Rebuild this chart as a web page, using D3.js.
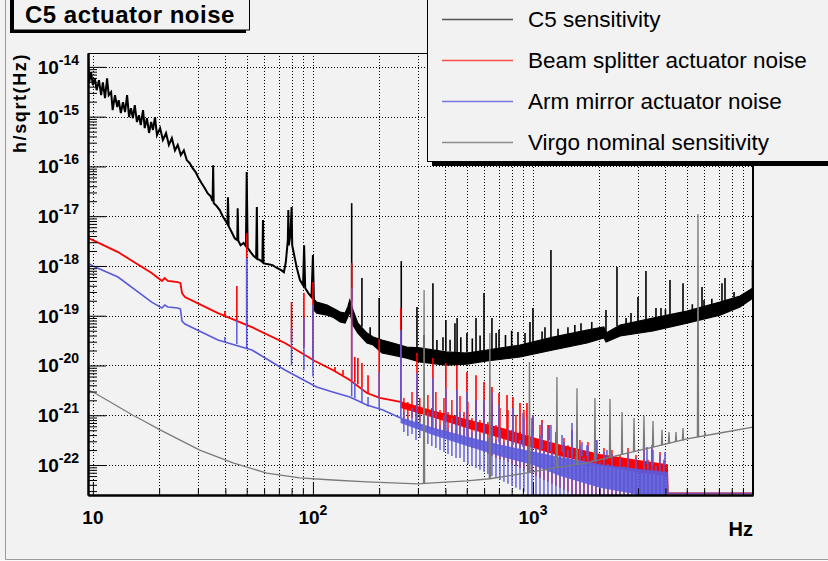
<!DOCTYPE html>
<html>
<head>
<meta charset="utf-8">
<script src="https://cdn.jsdelivr.net/npm/d3@7"></script>
<style>
  body { margin: 0; background: #f2f2f2; }
  svg { display: block; font-family: "Liberation Sans", Arial, Helvetica, sans-serif; }
</style>
</head>
<body>
<svg width="828" height="561"></svg>
<script>
var title = "C5 actuator noise";
var yTitle = "h/sqrt(Hz)";
var xTitle = "Hz";

var legendLabels = ["C5 sensitivity", "Beam splitter actuator noise",
                    "Arm mirror actuator noise", "Virgo nominal sensitivity"];
var legendColors = ["#555555", "#ff4a4a", "#7878e0", "#8c8c8c"];

var xMajor = [10, 100, 1000];
var xLabelExp = ["", "2", "3"];
var yMajor = [1e-22, 1e-21, 1e-20, 1e-19, 1e-18, 1e-17, 1e-16, 1e-15, 1e-14];
var yLabelExp = ["-22", "-21", "-20", "-19", "-18", "-17", "-16", "-15", "-14"];

// C5 sensitivity, [Hz, h]
var c5Trace = [
  [9.5, 1.57e-14], [9.6, 4.7e-15], [9.8, 7.8e-15], [10.0, 4.3e-15], [10.2, 5.9e-15],
  [10.4, 3.4e-15], [10.65, 5.4e-15], [10.9, 2.7e-15], [11.1, 4.9e-15], [11.35, 2.35e-15],
  [11.6, 5.9e-15], [11.8, 2.7e-15], [12.1, 3.1e-15], [12.3, 1.35e-15], [12.6, 2.7e-15],
  [12.9, 1.55e-15], [13.1, 2.15e-15], [13.4, 1.18e-15], [13.7, 1.95e-15], [14.0, 1.23e-15],
  [14.3, 2.7e-15], [14.6, 9.8e-16], [14.9, 1.48e-15], [15.2, 9.3e-16], [15.5, 1.7e-15],
  [15.85, 7.8e-16], [16.2, 1.07e-15], [16.5, 6.8e-16], [16.9, 1.35e-15], [17.2, 5.9e-16],
  [17.6, 9.3e-16], [18.0, 4.7e-16], [18.4, 7.8e-16], [18.75, 5.4e-16], [19.15, 9.8e-16],
  [19.55, 4.25e-16], [20.2, 5.9e-16], [20.8, 3.4e-16], [21.5, 4.7e-16], [22.15, 2.7e-16],
  [22.85, 3.7e-16], [23.6, 2.1e-16], [24.3, 2.7e-16], [25.1, 1.69e-16], [25.9, 2.1e-16],
  [26.7, 1.34e-16], [27.55, 1.16e-16], [28.4, 9.2e-17], [29.3, 7.7e-17], [30.25, 5.8e-17],
  [31.2, 4.6e-17], [32.2, 3.7e-17], [33.2, 2.9e-17], [34.3, 2.5e-17], [35.0, 2.0e-17],
  [35.2, 1.06e-16], [35.4, 1.83e-17], [36.5, 1.6e-17], [37.7, 1.33e-17], [38.9, 1.0e-17],
  [40.1, 8.0e-18], [40.9, 6.9e-18], [41.1, 2.4e-17], [41.4, 6.3e-18], [42.7, 4.8e-18],
  [44.1, 3.6e-18], [45.3, 3.3e-18], [45.5, 1.45e-17], [45.8, 3.2e-18], [46.9, 2.6e-18],
  [48.4, 2.9e-18], [49.6, 2.5e-18], [50.0, 7.7e-17], [50.5, 2.3e-18], [52.1, 1.9e-18],
  [53.8, 1.58e-18], [55.2, 1.44e-18], [55.6, 1.52e-17], [55.9, 1.38e-18], [57.5, 1.31e-18],
  [58.9, 1.2e-18], [59.3, 8.4e-18], [59.6, 1.14e-18], [61.9, 1.09e-18], [65.5, 1.04e-18],
  [68.6, 9.1e-19], [71.5, 8.3e-19], [73.8, 7.5e-19], [75.3, 1.2e-18], [76.9, 3.3e-18],
  [77.3, 1.33e-17], [77.7, 2.6e-18], [79.0, 4.2e-18], [80.0, 1.52e-17], [80.5, 2.6e-18],
  [82.7, 1.44e-18], [84.5, 9.1e-19], [87.3, 5.2e-19], [90.2, 4.1e-19], [91.2, 2.6e-18],
  [92.2, 3.6e-19], [95.3, 2.85e-19], [98.5, 2.37e-19], [100, 1.66e-18], [101, 2.16e-19]
];
// [Hz, lower, upper]
var c5Band = [
  [101, 1.3e-19, 2.16e-19], [104, 1.13e-19, 1.88e-19], [116, 1.03e-19, 1.64e-19],
  [123, 9.4e-20, 1.43e-19], [133, 7.5e-20, 1.19e-19], [140, 7.1e-20, 1.13e-19],
  [144, 9.4e-20, 1.5e-19], [147, 1.19e-19, 2.07e-19], [152, 6.5e-20, 1.3e-19],
  [160, 4.49e-20, 7.1e-20], [176, 2.83e-20, 4.49e-20], [188, 2.58e-20, 3.73e-20],
  [206, 1.78e-20, 3.25e-20], [231, 1.62e-20, 2.83e-20], [267, 1.41e-20, 2.35e-20],
  [306, 1.18e-20, 2.25e-20], [402, 1.02e-20, 1.87e-20], [501, 1.07e-20, 1.78e-20],
  [618, 1.23e-20, 2.05e-20], [873, 1.48e-20, 2.58e-20], [1233, 2.05e-20, 3.73e-20],
  [1760, 2.83e-20, 5.16e-20], [2100, 3.57e-20, 5.93e-20], [2150, 2.96e-20, 4.49e-20],
  [2490, 3.91e-20, 6.5e-20], [3510, 4.93e-20, 8.99e-20], [5010, 7.1e-20, 1.24e-19],
  [7080, 1.03e-19, 1.88e-19], [8730, 1.5e-19, 2.49e-19], [10000, 2.27e-19, 3.6e-19]
];
// lines [Hz, bottom, top]
var c5Lines = [
  [150, 2.0e-19, 1.83e-17], [167, 6e-20, 5.7e-19], [182, 4e-20, 5.9e-20], [200, 3.4e-20, 2.27e-19],
  [252, 2.5e-20, 1.25e-18], [297, 2.2e-20, 1.5e-19], [320, 2.1e-20, 4.1e-20], [351, 2.1e-20, 4.5e-19],
  [366, 2.0e-20, 3.25e-20], [390, 2.0e-20, 3.7e-20], [402, 1.9e-20, 8.2e-20], [420, 1.9e-20, 3.3e-20],
  [442, 1.85e-20, 7.1e-20], [452, 1.85e-20, 9.0e-20], [470, 1.85e-20, 3.7e-20], [501, 1.8e-20, 4.5e-20],
  [530, 1.85e-20, 3.5e-20], [551, 1.9e-20, 9.0e-20], [575, 1.9e-20, 4.0e-20], [599, 2.0e-20, 2.85e-19],
  [651, 2.1e-20, 9.0e-20], [680, 2.1e-20, 4.5e-20], [701, 2.2e-20, 5.2e-20], [750, 2.3e-20, 4.1e-20],
  [800, 2.4e-20, 5.0e-20], [855, 2.5e-20, 4.7e-20], [920, 2.6e-20, 4.5e-20], [969, 2.8e-20, 7.5e-20],
  [1000, 2.9e-20, 1.43e-19], [1100, 3.2e-20, 4.8e-20], [1134, 3.3e-20, 5.9e-20], [1207, 3.6e-20, 2.08e-18],
  [1300, 3.8e-20, 5.5e-20], [1442, 4.3e-20, 5.9e-20], [1550, 4.5e-20, 6.5e-20], [1653, 4.9e-20, 7.1e-20],
  [1850, 5.2e-20, 7.5e-20], [2147, 4.5e-20, 1.3e-19], [2409, 6.2e-20, 9.5e-19], [2650, 6.8e-20, 9e-20],
  [2789, 7e-20, 1.13e-19], [3001, 7.5e-20, 2.37e-19], [3263, 8e-20, 7.9e-19], [3623, 9e-20, 1.43e-19],
  [3818, 9.5e-20, 1.43e-19], [4000, 9.8e-20, 1.35e-19], [4195, 1.0e-19, 5.2e-19], [4807, 1.15e-19, 4.5e-19],
  [5300, 1.2e-19, 1.7e-19], [5864, 1.4e-19, 3.77e-19], [5989, 1.45e-19, 2.07e-19], [6500, 1.6e-19, 2.2e-19],
  [7229, 1.9e-19, 4.5e-19], [7459, 2.0e-19, 5.7e-19], [8200, 2.3e-19, 3.0e-19], [9950, 3.5e-19, 1.31e-18]
];

// Beam splitter actuator noise
var bsTrace = [
  [9.5, 3.63e-18], [10, 3.31e-18], [13.0, 1.9e-18], [18.5, 7.2e-19], [20.6, 5.0e-19],
  [21.2, 5.7e-19], [21.9, 5.0e-19], [24.3, 4.75e-19], [25.0, 4.5e-19], [25.4, 2.86e-19],
  [26.2, 2.37e-19], [37.0, 1.13e-19], [52.8, 5.9e-20], [74.6, 2.83e-20], [102, 1.23e-20],
  [123, 8.1e-21], [147, 5.1e-21], [176, 2.8e-21], [201, 2.23e-21], [250, 1.85e-21]
];
var bsBand = [
  [250, 1.4e-21, 1.85e-21], [351, 9e-22, 1.2e-21], [501, 5.5e-22, 8e-22],
  [708, 3.5e-22, 5.5e-22], [1000, 2.2e-22, 3.5e-22], [1327, 1.5e-22, 2.5e-22],
  [2016, 1e-22, 1.6e-22], [3065, 7e-23, 1.2e-22], [4070, 6e-23, 1.0e-22],
  [4100, 2.7e-23, 2.7e-23], [10000, 2.7e-23, 2.7e-23]
];
var bsLines = [
  [39.8, 1.0e-19, 1.24e-19], [45.1, 8.2e-20, 3.95e-19], [50, 6.3e-20, 4.58e-18], [79.9, 3.0e-20, 1.88e-19],
  [91, 2.3e-20, 2.86e-19], [100, 1.3e-20, 4.75e-19], [126, 7.6e-21, 9.3e-21], [137, 6.3e-21, 8.1e-21],
  [150, 5.0e-21, 1.14e-18], [155, 4.6e-21, 1.48e-20], [160, 4.2e-21, 1.41e-20], [167, 3.6e-21, 1.12e-20],
  [178, 2.7e-21, 6.4e-21], [200, 2.2e-21, 3.4e-20], [251, 1.8e-21, 1.43e-19], [297, 1.5e-21, 1.78e-20],
  [351, 1.2e-21, 1.41e-20], [402, 1.0e-21, 1.12e-20], [451, 9e-22, 1.02e-20], [501, 8e-22, 7.4e-21],
  [551, 7e-22, 6.4e-21], [599, 6.5e-22, 4.66e-21], [651, 6e-22, 3.7e-21], [701, 5.5e-22, 2.8e-21],
  [762, 5e-22, 2.56e-21], [811, 4.5e-22, 2.33e-21], [873, 4.2e-22, 1.77e-21], [939, 4e-22, 1.77e-21],
  [1000, 3.8e-22, 1.0e-21], [1099, 3.4e-22, 8e-22], [1183, 3.1e-22, 6.4e-22]
];
var bsGrass = [
  [259, 8.8e-22, 2.23e-21], [270, 8.0e-22, 1.85e-21], [282, 8.8e-22, 2.94e-21], [294, 6.7e-22, 1.61e-21],
  [306, 7.3e-22, 2.23e-21], [320, 6.1e-22, 1.69e-21], [333, 5.5e-22, 2.56e-21], [347, 5.1e-22, 1.4e-21],
  [362, 4.6e-22, 2.94e-21], [378, 4.2e-22, 1.28e-21], [394, 3.84e-22, 2.23e-21], [411, 3.5e-22, 1.16e-21],
  [428, 3.2e-22, 2.03e-21], [447, 2.9e-22, 1.01e-21], [466, 2.9e-22, 2.44e-21], [486, 2.65e-22, 1.16e-21],
  [506, 2.42e-22, 1.85e-21], [528, 2.2e-22, 8.8e-22], [551, 2.2e-22, 2.03e-21], [574, 2.0e-22, 8.0e-22],
  [599, 1.83e-22, 1.61e-21], [624, 1.67e-22, 7.3e-22], [651, 1.52e-22, 1.85e-21], [679, 1.39e-22, 6.4e-22],
  [708, 1.27e-22, 1.4e-21], [738, 1.27e-22, 5.5e-22], [770, 1.15e-22, 1.28e-21], [803, 1.05e-22, 5.1e-22],
  [837, 9.6e-23, 1.01e-21], [873, 8.7e-23, 4.6e-22], [910, 8e-23, 1.28e-21], [949, 7.3e-23, 4.0e-22],
  [990, 6.6e-23, 8.8e-22], [1032, 6.0e-23, 3.2e-22], [1076, 5.5e-23, 6.4e-22], [1122, 5e-23, 2.9e-22],
  [1170, 4.6e-23, 6.4e-22], [1220, 4.2e-23, 2.5e-22], [1272, 3.8e-23, 4.6e-22], [1327, 3.5e-23, 2.2e-22],
  [1383, 3.2e-23, 3.5e-22], [1442, 2.9e-23, 2.5e-22], [1504, 1e-24, 5.1e-22], [1568, 1e-24, 1.83e-22],
  [1635, 1e-24, 3.2e-22], [1705, 1e-24, 1.6e-22], [1778, 1e-24, 2.9e-22], [1854, 1e-24, 1.39e-22],
  [1933, 1e-24, 3.2e-22], [2016, 1e-24, 1.27e-22], [2102, 1e-24, 2.2e-22], [2192, 1e-24, 1.15e-22],
  [2286, 1e-24, 2.0e-22], [2384, 1e-24, 1.0e-22], [2486, 1e-24, 1.6e-22], [2592, 1e-24, 1.15e-22],
  [2703, 1e-24, 2.2e-22], [2818, 1e-24, 9.6e-23], [2939, 1e-24, 1.6e-22], [3065, 1e-24, 8.7e-23],
  [3196, 1e-24, 2.42e-22], [3332, 1e-24, 1.27e-22], [3475, 1e-24, 2.5e-22], [3623, 1e-24, 1.05e-22],
  [3778, 1e-24, 1.83e-22], [3940, 1e-24, 1.27e-22]
];

// Arm mirror actuator noise
var amTrace = [
  [9.5, 1.14e-18], [10, 1.0e-18], [13.0, 6.0e-19], [18.5, 1.88e-19], [20.6, 1.43e-19],
  [21.2, 1.64e-19], [21.9, 1.5e-19], [24.3, 1.43e-19], [25.0, 1.36e-19], [25.4, 7.8e-20],
  [26.2, 6.8e-20], [37.0, 3.25e-20], [52.8, 2.05e-20], [74.6, 8.1e-21], [104, 3.7e-21],
  [123, 2.94e-21], [147, 2.33e-21], [176, 1.61e-21], [208, 1.28e-21], [250, 8.8e-22]
];
var amBand = [
  [250, 7e-22, 8.8e-22], [351, 4e-22, 5.5e-22], [501, 2.4e-22, 3.6e-22],
  [708, 1.5e-22, 2.5e-22], [1000, 1.0e-22, 1.8e-22], [1327, 6e-23, 1.4e-22],
  [2016, 3.5e-23, 1.0e-22], [3065, 1e-24, 8e-23], [4070, 1e-24, 7e-23],
  [4100, 2.7e-23, 2.7e-23], [10000, 2.7e-23, 2.7e-23]
];
var amLines = [
  [39.8, 3.1e-20, 3.73e-20], [45.1, 2.7e-20, 8.2e-20], [50, 2.2e-20, 1.44e-18], [79.9, 1.0e-20, 5.66e-20],
  [91, 8e-21, 9.0e-20], [100, 6e-21, 1.64e-19], [150, 2.4e-21, 3.6e-19], [155, 2.2e-21, 4.45e-21],
  [167, 1.8e-21, 3.7e-21], [178, 1.5e-21, 2.33e-21], [200, 1.3e-21, 7.4e-21], [251, 8.8e-22, 5.16e-20],
  [297, 6.5e-22, 7.1e-21], [351, 5.5e-22, 5.6e-21], [402, 4.5e-22, 3.5e-21], [451, 4e-22, 3.2e-21],
  [501, 3.8e-22, 2.94e-21], [551, 3.4e-22, 2.03e-21], [599, 3.1e-22, 2.03e-21], [651, 2.9e-22, 2.8e-21],
  [701, 2.8e-22, 1.61e-21], [811, 2.5e-22, 1.4e-21], [901, 2.3e-22, 1.11e-21], [1000, 2.2e-22, 1.0e-21],
  [1099, 2.1e-22, 7e-22], [1207, 1.9e-22, 6.4e-22], [1355, 1.8e-22, 4e-22], [1504, 1.7e-22, 7e-22],
  [1670, 1.5e-22, 2.9e-22], [1760, 1.5e-22, 2.5e-22], [1954, 1.4e-22, 3.2e-22], [2169, 1.3e-22, 2e-22],
  [3298, 1.05e-22, 2.3e-22], [3512, 1.0e-22, 2e-22], [3981, 1.0e-22, 1.83e-22]
];
var amGrass = [
  [259, 4.6e-22, 1.16e-21], [270, 3.84e-22, 8.8e-22], [282, 4.2e-22, 1.4e-21], [294, 3.2e-22, 8.0e-22],
  [306, 3.5e-22, 1.01e-21], [320, 2.9e-22, 8.8e-22], [333, 2.65e-22, 1.16e-21], [347, 2.42e-22, 7.3e-22],
  [362, 2.2e-22, 1.28e-21], [378, 2.0e-22, 6.4e-22], [394, 1.83e-22, 1.01e-21], [411, 1.67e-22, 5.5e-22],
  [428, 1.52e-22, 8.8e-22], [447, 1.39e-22, 5.1e-22], [466, 1.39e-22, 1.16e-21], [486, 1.15e-22, 5.5e-22],
  [506, 1.05e-22, 8.0e-22], [528, 9.6e-23, 4.6e-22], [551, 8.7e-23, 1.01e-21], [574, 8e-23, 4.0e-22],
  [599, 7.3e-23, 6.4e-22], [624, 6.6e-23, 3.5e-22], [651, 6.0e-23, 8.0e-22], [679, 5.5e-23, 3.2e-22],
  [708, 5e-23, 5.1e-22], [738, 4.6e-23, 2.9e-22], [770, 4.2e-23, 5.5e-22], [803, 3.8e-23, 2.5e-22],
  [837, 3.5e-23, 4.6e-22], [873, 3.2e-23, 3.2e-22], [910, 2.9e-23, 8.8e-22], [949, 1e-24, 2.5e-22],
  [990, 1e-24, 5.1e-22], [1032, 1e-24, 2.2e-22], [1076, 1e-24, 4.0e-22], [1122, 1e-24, 2.0e-22],
  [1170, 1e-24, 5.5e-22], [1220, 1e-24, 1.83e-22], [1272, 1e-24, 3.5e-22], [1327, 1e-24, 1.6e-22],
  [1383, 1e-24, 2.9e-22], [1442, 1e-24, 2.0e-22], [1504, 1e-24, 4.6e-22], [1568, 1e-24, 1.52e-22],
  [1635, 1e-24, 2.5e-22], [1705, 1e-24, 1.39e-22], [1778, 1e-24, 2.42e-22], [1854, 1e-24, 1.27e-22],
  [1933, 1e-24, 2.9e-22], [2016, 1e-24, 1.15e-22], [2102, 1e-24, 1.83e-22], [2192, 1e-24, 1.05e-22],
  [2286, 1e-24, 1.67e-22], [2384, 1e-24, 8.7e-23], [2486, 1e-24, 1.39e-22], [2592, 1e-24, 9.6e-23],
  [2703, 1e-24, 1.83e-22], [2818, 1e-24, 8.7e-23], [2939, 1e-24, 1.39e-22], [3065, 1e-24, 8e-23],
  [3196, 1e-24, 2.0e-22], [3332, 1e-24, 1.15e-22], [3475, 1e-24, 2.2e-22], [3623, 1e-24, 9.6e-23],
  [3778, 1e-24, 1.6e-22], [3940, 1e-24, 1.15e-22]
];

// Virgo nominal sensitivity
var virgoCurve = [
  [9.5, 3.2e-21], [10.2, 2.8e-21], [15.2, 1.0e-21], [16.4, 8.4e-22], [20.2, 5.1e-22],
  [30.6, 2.0e-22], [43.3, 1.1e-22], [61.7, 6.9e-23], [87.1, 5.5e-23], [123, 5.0e-23],
  [176, 4.6e-23], [300, 4.2e-23], [351, 4.4e-23], [501, 4.8e-23], [637, 5.3e-23],
  [873, 6.6e-23], [1233, 8.7e-23], [1760, 1.1e-22], [2486, 1.6e-22], [3512, 2.3e-22],
  [5012, 3.35e-22], [7079, 4.4e-22], [10000, 5.8e-22]
];
var virgoLines = [
  [320, 4.3e-23, 3.28e-19], [637, 5.3e-23, 4.49e-20], [964, 7e-23, 1.18e-20], [1285, 9e-23, 5.9e-21],
  [1585, 1.0e-22, 3.5e-21], [1913, 1.2e-22, 2.23e-21], [2239, 1.4e-22, 2.13e-21], [2539, 1.6e-22, 1.16e-21],
  [2879, 1.9e-22, 8.8e-22], [3195, 2.1e-22, 9.7e-22], [3512, 2.3e-22, 7.7e-22], [3858, 2.5e-22, 5.1e-22],
  [4152, 2.7e-22, 4.6e-22], [4467, 2.9e-22, 4.6e-22], [4807, 3.1e-22, 5.55e-22], [5623, 3.6e-22, 1.1e-17],
  [6050, 3.8e-22, 4.6e-22]
];

var svg = d3.select("svg");
var bg = "#f2f2f2";
var red = "#ff0000", blue = "#5a5ada", gray = "#7a7a7a";

var x = d3.scaleLog().domain([9.5, 10000]).range([88, 753]);
var y = d3.scaleLog().domain([2.5e-23, 1.9e-14]).range([495, 53]).clamp(true);

// canvas
svg.append("rect").attr("width", 828).attr("height", 561).attr("fill", bg);
svg.append("rect").attr("x", 0).attr("y", 560).attr("width", 828).attr("height", 1).attr("fill", "#fafafa");
svg.append("path")
  .attr("d", "M5.5,0V559.5H828")
  .attr("fill", "none").attr("stroke", "#9a9a9a");

svg.append("defs").append("clipPath").attr("id", "plot")
  .append("rect").attr("x", 88).attr("y", 53).attr("width", 665).attr("height", 442);

// grid
var grid = svg.append("g").attr("stroke", "#000").attr("stroke-dasharray", "1,2").attr("stroke-width", 1);
var xGrid = x.ticks().filter(d => d >= 10 && d < 10000);
grid.selectAll(".gx")
  .data(xGrid)
  .enter().append("line")
    .attr("x1", d => Math.round(x(d)) + 0.5).attr("x2", d => Math.round(x(d)) + 0.5)
    .attr("y1", 53).attr("y2", 495);
grid.selectAll(".gy")
  .data(yMajor)
  .enter().append("line")
    .attr("y1", d => Math.round(y(d)) + 0.5).attr("y2", d => Math.round(y(d)) + 0.5)
    .attr("x1", 88).attr("x2", 753);

// data
var plot = svg.append("g").attr("clip-path", "url(#plot)");
var line = d3.line().x(d => x(d[0])).y(d => y(d[1]));
var band = d3.area().x(d => x(d[0])).y0(d => y(d[1])).y1(d => y(d[2]));
var upper = d3.line().x(d => x(d[0])).y(d => y(d[2]));

function drawLines(data, color, width){
  plot.append("g")
    .selectAll("line")
    .data(data)
    .enter().append("line")
      .attr("x1", d => x(d[0])).attr("x2", d => x(d[0]))
      .attr("y1", d => y(d[1])).attr("y2", d => y(d[2]))
      .attr("stroke", color)
      .attr("stroke-width", width);
}

plot.append("path").datum(c5Trace)
  .attr("d", line).attr("fill", "none").attr("stroke", "#000").attr("stroke-width", 2);
plot.append("path").datum(c5Band)
  .attr("d", band).attr("fill", "#000").attr("stroke", "#000").attr("stroke-width", 1.2);
drawLines(c5Lines, "#000", 1.6);

plot.append("path").datum(bsTrace)
  .attr("d", line).attr("fill", "none").attr("stroke", red).attr("stroke-width", 1.8);
plot.append("path").datum(bsBand)
  .attr("d", band).attr("fill", red);
plot.append("path").datum(bsBand)
  .attr("d", upper).attr("fill", "none").attr("stroke", red).attr("stroke-width", 1.6);
drawLines(bsGrass, red, 1.4);
drawLines(bsLines, red, 1.6);

plot.append("path").datum(amTrace)
  .attr("d", line).attr("fill", "none").attr("stroke", blue).attr("stroke-width", 1.6);
plot.append("path").datum(amBand)
  .attr("d", band).attr("fill", blue).attr("fill-opacity", 0.9);
plot.append("path").datum(amBand)
  .attr("d", upper).attr("fill", "none").attr("stroke", blue).attr("stroke-opacity", 0.75).attr("stroke-width", 1.6);
drawLines(amGrass, blue, 1.4);
drawLines(amLines, blue, 1.5);

plot.append("path").datum(virgoCurve)
  .attr("d", line).attr("fill", "none").attr("stroke", gray).attr("stroke-width", 1.3);
plot.append("g")
  .selectAll("path")
  .data(virgoLines)
  .enter().append("path")
    .attr("d", d => "M" + x(d[0] * 0.994) + "," + y(d[1]) + "L" + x(d[0]) + "," + y(d[2]) +
                    "L" + x(d[0] * 1.006) + "," + y(d[1]))
    .attr("fill", "none").attr("stroke", gray).attr("stroke-width", 1.3);

// axes
var xMinor = x.ticks().filter(d => xMajor.indexOf(d) < 0 && d < 10000);
var yMinor = y.ticks().filter(d => yMajor.indexOf(d) < 0);

function styleAxis(g){
  g.select(".domain").attr("stroke-width", 2);
  g.selectAll(".tick line").attr("stroke", "#000");
}
svg.append("g").attr("transform", "translate(0,495)")
  .call(d3.axisBottom(x).tickValues(xMajor).tickSize(-13).tickSizeOuter(0).tickFormat(""))
  .call(styleAxis);
svg.append("g").attr("transform", "translate(0,495)")
  .call(d3.axisBottom(x).tickValues(xMinor).tickSize(-6.6).tickSizeOuter(0).tickFormat(""))
  .call(styleAxis);
svg.append("g").attr("transform", "translate(88,0)")
  .call(d3.axisLeft(y).tickValues(yMajor).tickSize(-18).tickSizeOuter(0).tickFormat(""))
  .call(styleAxis);
svg.append("g").attr("transform", "translate(88,0)")
  .call(d3.axisLeft(y).tickValues(yMinor).tickSize(-9).tickSizeOuter(0).tickFormat(""))
  .call(styleAxis);
svg.append("path")
  .attr("d", "M88,53.5H753")
  .attr("fill", "none").attr("stroke", "#000").attr("stroke-width", 1);
svg.append("line")
  .attr("x1", 753).attr("x2", 753).attr("y1", 53).attr("y2", 495)
  .attr("stroke", "#000").attr("stroke-width", 2);

// tick labels
var labels = svg.append("g").attr("font-weight", "bold").attr("fill", "#000");
yLabelExp.forEach(function(e, i){
  var t = labels.append("text")
    .attr("x", 79).attr("y", y(yMajor[i]) + 7)
    .attr("text-anchor", "end").attr("font-size", 19);
  t.append("tspan").text("10");
  t.append("tspan").attr("dy", -9).attr("font-size", 14).text(e);
});
xLabelExp.forEach(function(e, i){
  var t = labels.append("text")
    .attr("x", x(xMajor[i])).attr("y", 524)
    .attr("text-anchor", "middle").attr("font-size", 19);
  t.append("tspan").text("10");
  if (e) t.append("tspan").attr("dy", -9).attr("font-size", 14).text(e);
});
labels.append("text")
  .attr("x", 753).attr("y", 536).attr("text-anchor", "end").attr("font-size", 20)
  .text(xTitle);
labels.append("text")
  .attr("transform", "translate(26,53) rotate(-90)")
  .attr("text-anchor", "end").attr("font-size", 18).attr("letter-spacing", 1.6)
  .text(yTitle);

// title box
svg.append("rect").attr("x", 10).attr("y", -10).attr("width", 236).attr("height", 43).attr("fill", "#000");
svg.append("rect").attr("x", 13.5).attr("y", -10).attr("width", 236).attr("height", 40)
  .attr("fill", bg).attr("stroke", "#000").attr("stroke-width", 1);
svg.append("text")
  .attr("x", 25).attr("y", 23).attr("font-size", 24).attr("font-weight", "bold").attr("letter-spacing", 0.5)
  .text(title);

// legend
var leg = svg.append("g");
leg.append("rect").attr("x", 432).attr("y", -10).attr("width", 420).attr("height", 176).attr("fill", "#000");
leg.append("rect").attr("x", 427.5).attr("y", -10).attr("width", 420).attr("height", 171.5)
  .attr("fill", bg).attr("stroke", "#000").attr("stroke-width", 1);
var rows = leg.selectAll(".entry")
  .data(legendLabels)
  .enter().append("g")
    .attr("transform", (d, i) => "translate(0," + (19 + i * 41) + ")");
rows.append("line")
  .attr("x1", 442).attr("x2", 513).attr("y1", 0.5).attr("y2", 0.5)
  .attr("stroke", (d, i) => legendColors[i]).attr("stroke-width", 1.5);
rows.append("text")
  .attr("x", 528).attr("y", 7.5).attr("font-size", 22.5).attr("fill", "#000")
  .text(d => d);
</script>
</body>
</html>
